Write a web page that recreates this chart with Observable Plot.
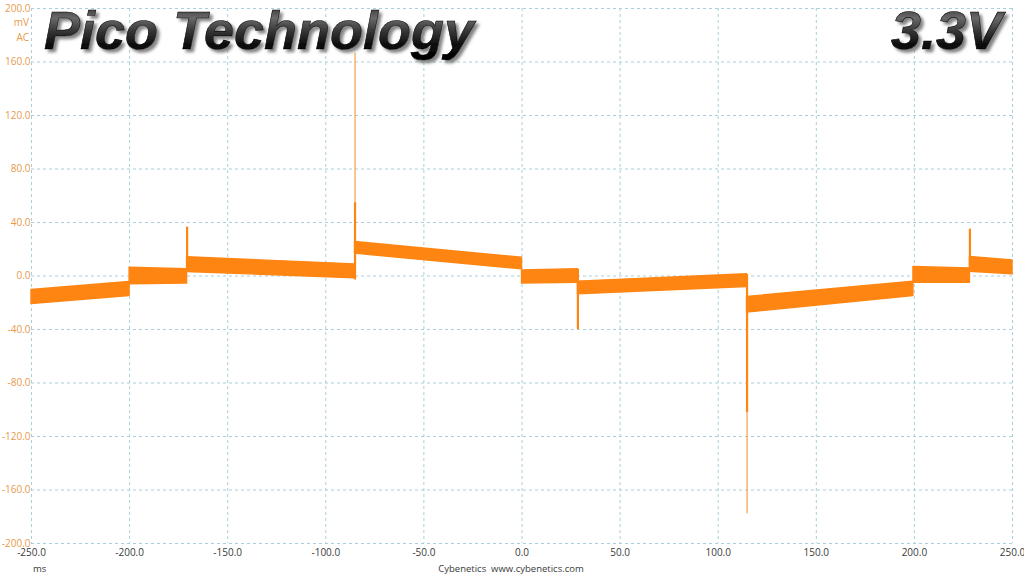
<!DOCTYPE html>
<html>
<head>
<meta charset="utf-8">
<script src="https://cdn.jsdelivr.net/npm/d3@7"></script>
<script src="https://cdn.jsdelivr.net/npm/@observablehq/plot@0.6"></script>
<style>
  html, body { margin: 0; padding: 0; background: #fff; }
  #wrap { position: relative; width: 1024px; height: 576px; overflow: hidden; }
  #overlay { position: absolute; left: 0; top: 0; pointer-events: none; }
</style>
</head>
<body>
<div id="wrap"></div>
<script>
// ---- Data ----
// Band segments of the ripple trace (time in ms, level in mV)
const segStart = [-250, -200, -170.7, -85.1, 0, 28.5, 114.7, 199.5, 228.3];
const segEnd   = [-200, -170.7, -85.1, 0, 28.5, 114.7, 199.5, 228.3, 250];
const upperStart = [-10.5, 6.2, 14.0, 25.4, 4.2, -4.2, -15.7, 6.7, 14.2];
const upperEnd   = [-4.5, 5.0, 8.7, 13.7, 5.0, 1.3, -4.2, 5.7, 11.7];
const lowerStart = [-20.9, -6.2, 3.0, 16.7, -5.7, -13.7, -27.4, -5.0, 3.2];
const lowerEnd   = [-14.9, -5.7, -1.7, 5.0, -5.0, -8.2, -14.9, -5.0, 1.3];

// Switching spikes (main, thicker part)
const spikeTime = [-170.7, -85.1, 28.5, 114.7, 228.3];
const spikeLow  = [5.0, -3.0, -40.0, -102.0, 5.0];
const spikeHigh = [36.6, 54.7, 5.0, 1.0, 35.0];
// Thin tails of the two big spikes
const tailTime = [-85.1, 114.7];
const tailLow  = [40.0, -177.7];
const tailHigh = [166.5, -95.0];

const xTicks = [-250, -200, -150, -100, -50, 0, 50, 100, 150, 200, 250];
const yTicks = [-200, -160, -120, -80, -40, 0, 40, 80, 120, 160, 200];

const titleText = "Pico Technology";
const railText = "3.3V";
const yUnit = ["mV", "AC"];
const xUnit = "ms";
const credit = "Cybenetics  www.cybenetics.com";

// ---- Build tables ----
const band = [];
segStart.forEach((t0, i) => {
  band.push({seg: i, t: t0, lo: lowerStart[i], hi: upperStart[i]});
  band.push({seg: i, t: segEnd[i], lo: lowerEnd[i], hi: upperEnd[i]});
});
const spikes = spikeTime.map((t, i) => ({t, lo: spikeLow[i], hi: spikeHigh[i]}));
const tails = tailTime.map((t, i) => ({t, lo: tailLow[i], hi: tailHigh[i]}));

const orange = "#ff8512";
const gridColor = "#a9cfd8";
const fontFam = "'Open Sans', 'Noto Sans', sans-serif";

const chart = Plot.plot({
  width: 1024,
  height: 576,
  marginTop: 8,
  marginRight: 12,
  marginBottom: 33,
  marginLeft: 31,
  style: {fontFamily: fontFam, fontSize: "10px", background: "#fff"},
  x: {domain: [-250, 250], ticks: xTicks},
  y: {domain: [-200, 200], ticks: yTicks},
  marks: [
    Plot.gridX(xTicks, {stroke: gridColor, strokeOpacity: 1, strokeDasharray: "3,3", strokeWidth: 1}),
    Plot.gridY(yTicks, {stroke: gridColor, strokeOpacity: 1, strokeDasharray: "3,3", strokeWidth: 1}),
    Plot.axisX(xTicks, {tickSize: 0, tickPadding: 5, fill: "#3a3a3a", tickFormat: d => d.toFixed(1), label: null}),
    Plot.axisY(yTicks, {tickSize: 0, tickPadding: 1, fill: "#e89a4c", tickFormat: d => d.toFixed(1), label: null}),
    Plot.areaY(band, {x: "t", y1: "lo", y2: "hi", z: "seg", fill: orange, stroke: orange, strokeWidth: 1.4, curve: "linear"}),
    Plot.ruleX(tails, {x: "t", y1: "lo", y2: "hi", stroke: "#f0983a", strokeWidth: 1.1}),
    Plot.ruleX(spikes, {x: "t", y1: "lo", y2: "hi", stroke: orange, strokeWidth: 2.2})
  ]
});

const wrap = document.getElementById("wrap");
wrap.appendChild(chart);

// ---- Overlay texts (title, rail, units, credit) ----
const ns = "http://www.w3.org/2000/svg";
const ov = document.createElementNS(ns, "svg");
ov.setAttribute("id", "overlay");
ov.setAttribute("width", 1024);
ov.setAttribute("height", 576);
ov.innerHTML = `
  <defs>
    <linearGradient id="metal" x1="0" y1="0" x2="0" y2="1">
      <stop offset="0%" stop-color="#1a1a1a"/>
      <stop offset="30%" stop-color="#6a6a6a"/>
      <stop offset="50%" stop-color="#3a3a3a"/>
      <stop offset="75%" stop-color="#0c0c0c"/>
      <stop offset="100%" stop-color="#000"/>
    </linearGradient>
    <filter id="shadow" x="-10%" y="-20%" width="130%" height="160%">
      <feDropShadow dx="3" dy="3" stdDeviation="1.6" flood-color="#777" flood-opacity="0.9"/>
    </filter>
  </defs>`;
function addText(str, attrs, parent) {
  const t = document.createElementNS(ns, "text");
  for (const k in attrs) t.setAttribute(k, attrs[k]);
  t.textContent = str;
  (parent || ov).appendChild(t);
  return t;
}
const titleStyle = {
  "font-family": "'Liberation Sans', Arial, sans-serif",
  "font-weight": "bold",
  "font-style": "italic",
  "font-size": "54",
  fill: "url(#metal)",
  stroke: "#000",
  "stroke-width": "0.6",
  filter: "url(#shadow)"
};
addText(titleText, Object.assign({x: 44, y: 49}, titleStyle));
addText(railText, Object.assign({x: 1002, y: 49, "text-anchor": "end"}, titleStyle));
addText(yUnit[0], {x: 29, y: 26, "text-anchor": "end", fill: "#e89a4c", "font-family": fontFam, "font-size": "10"});
addText(yUnit[1], {x: 29, y: 41, "text-anchor": "end", fill: "#e89a4c", "font-family": fontFam, "font-size": "10"});
addText(xUnit, {x: 33, y: 572, fill: "#3a3a3a", "font-family": fontFam, "font-size": "9.5"});
addText(credit, {x: 511, y: 572, "text-anchor": "middle", fill: "#3a3a3a", "font-family": fontFam, "font-size": "9.5", style: "white-space:pre"});
wrap.appendChild(ov);
</script>
</body>
</html>
